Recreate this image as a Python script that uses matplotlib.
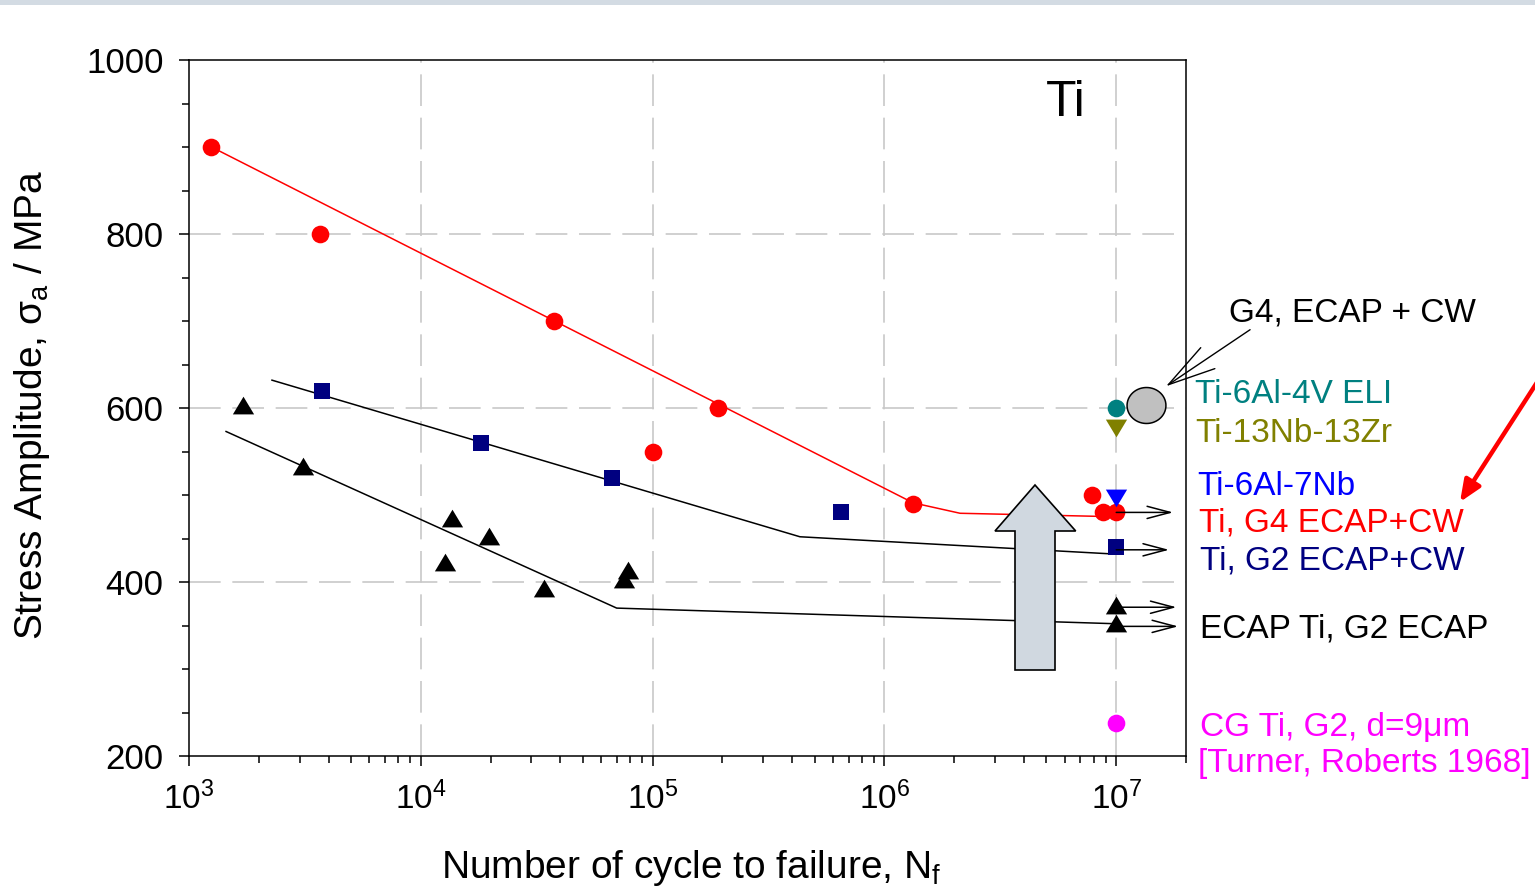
import numpy as np
import matplotlib
matplotlib.use("Agg")
import matplotlib.pyplot as plt
from matplotlib.patches import Polygon, Rectangle, FancyArrowPatch
from matplotlib.ticker import FixedLocator, NullFormatter

plt.rcParams['font.family'] = ['Liberation Sans', 'DejaVu Sans']
plt.rcParams['mathtext.fontset'] = 'custom'
plt.rcParams['mathtext.rm'] = 'Liberation Sans'
plt.rcParams['mathtext.it'] = 'Liberation Sans:italic'
plt.rcParams['mathtext.default'] = 'regular'

# ---------------- data ----------------
# Ti Grade 4, ECAP + cold working
g4_cw_n = [1250, 3670, 37600, 100000, 192000, 1.33e6, 7.9e6, 8.8e6, 1.0e7]
g4_cw_s = [900, 800, 700, 550, 600, 490, 500, 480, 480]
g4_fit_n = [1250, 1.33e6, 2.12e6, 1.0e7]
g4_fit_s = [900, 491, 479, 475]

# Ti Grade 2, ECAP + cold working
g2_cw_n = [3750, 18200, 67100, 650000, 1.0e7]
g2_cw_s = [620, 560, 520, 480, 440]
g2_fit_n = [2280, 432000, 1.0e7]
g2_fit_s = [632, 452, 432]

# ECAP Ti / Grade 2 ECAP
ecap_n = [1710, 3110, 12700, 13600, 19600, 34100, 75200, 78200, 1.0e7, 1.0e7]
ecap_s = [600, 530, 420, 470, 450, 390, 400, 410, 370, 350]
ecap_fit_n = [1445, 70000, 1.0e7]
ecap_fit_s = [573, 370, 352]

# reference alloys at 10^7 cycles
ti64_n, ti64_s = [1.0e7], [600]
ti1313_n, ti1313_s = [1.0e7], [580]
ti67_n, ti67_s = [1.0e7], [500]
cg_n, cg_s = [1.0e7], [238]

# run-out arrows (start stress, tip cycles)
runout_s = [480, 437, 371, 349]
runout_tip_n = [1.76e7, 1.69e7, 1.82e7, 1.85e7]
runout_start_n = 1.0e7

x_ticks = [1e3, 1e4, 1e5, 1e6, 1e7]
x_ticklabels = [r'$\mathregular{10^{3}}$', r'$\mathregular{10^{4}}$',
                r'$\mathregular{10^{5}}$', r'$\mathregular{10^{6}}$',
                r'$\mathregular{10^{7}}$']
y_ticks = [200, 400, 600, 800, 1000]

# ---------------- figure ----------------
W, H = 1535, 893
DPI = 100
fig = plt.figure(figsize=(W / DPI, H / DPI), dpi=DPI)


def fpx(x, y):
    """Figure-pixel position (origin top-left) to figure fraction."""
    return (x / W, 1 - y / H)


# thin banner strip at the top edge
fig.patches.append(Rectangle((0, 1 - 5 / H), 1, 5 / H, transform=fig.transFigure,
                             facecolor='#D3DBE3', edgecolor='none', zorder=0))

ax = fig.add_axes([189 / W, 1 - 756 / H, 997 / W, 696 / H])
ax.set_xscale('log')
ax.set_xlim(1e3, 2e7)
ax.set_ylim(200, 1000)

# grid
grid_kw = dict(color='#C8C8C8', lw=1.2, ls=(0, (19, 7)), zorder=0)
for xv in x_ticks[1:]:
    ax.axvline(xv, **grid_kw)
for yv in [400, 600, 800]:
    ax.axhline(yv, **grid_kw)

# ticks
ax.xaxis.set_major_locator(FixedLocator(x_ticks))
minor_x = [m * 10 ** e for e in range(3, 8) for m in range(2, 10) if m * 10 ** e <= 2e7]
ax.xaxis.set_minor_locator(FixedLocator(minor_x))
ax.xaxis.set_minor_formatter(NullFormatter())
ax.set_xticklabels(x_ticklabels)
ax.yaxis.set_major_locator(FixedLocator(y_ticks))
ax.yaxis.set_minor_locator(FixedLocator(np.arange(250, 1000, 50)))
ax.tick_params(axis='both', which='major', direction='out', length=7.2, width=1.1,
               color='black')
ax.tick_params(axis='both', which='minor', direction='out', length=5, width=1.1)
ax.tick_params(axis='x', which='major', pad=11, labelsize=24)
ax.tick_params(axis='y', which='major', pad=11, labelsize=25)
ax.tick_params(top=False, right=False, which='both')
for sp in ax.spines.values():
    sp.set_linewidth(1.1)

# fit lines
ax.plot(g4_fit_n, g4_fit_s, color='red', lw=1.1, zorder=2)
ax.plot(g2_fit_n, g2_fit_s, color='black', lw=1.1, zorder=2)
ax.plot(ecap_fit_n, ecap_fit_s, color='black', lw=1.1, zorder=2)

# triangle markers centred on their centroid
tri_up = [(0, 2 / 3), (-0.6, -1 / 3), (0.6, -1 / 3), (0, 2 / 3)]
tri_dn = [(0, -2 / 3), (-0.6, 1 / 3), (0.6, 1 / 3), (0, -2 / 3)]

ax.plot(g4_cw_n, g4_cw_s, 'o', color='#FF0000', ms=12.7, mew=0, zorder=4)
ax.plot(g2_cw_n, g2_cw_s, 's', color='#000080', ms=12, mew=0, zorder=4)
ax.plot(ecap_n, ecap_s, ls='none', marker=tri_up, color='black', ms=17, mew=0, zorder=4)
ax.plot(ti64_n, ti64_s, 'o', color='#008080', ms=12.7, mew=0, zorder=4)
ax.plot(ti1313_n, ti1313_s, ls='none', marker=tri_dn, color='#808000', ms=17, mew=0, zorder=4)
ax.plot(ti67_n, ti67_s, ls='none', marker=tri_dn, color='#0000FF', ms=17, mew=0, zorder=4)
ax.plot(cg_n, cg_s, 'o', color='#FF00FF', ms=12.7, mew=0, zorder=4)

# grey callout ellipse
th = np.linspace(0, 2 * np.pi, 60)
ellipse = list(zip(np.cos(th), 0.925 * np.sin(th)))
ax.plot([1.34e7], [604], ls='none', marker=ellipse, ms=28, mfc='#C0C0C0',
        mec='black', mew=1.1, zorder=4)

# run-out arrows
for s, tip in zip(runout_s, runout_tip_n):
    ax.annotate('', xy=(tip, s), xytext=(runout_start_n, s),
                arrowprops=dict(arrowstyle='->, head_length=1.66, head_width=0.44',
                                color='black', lw=1.1, shrinkA=0, shrinkB=0,
                                mutation_scale=10),
                annotation_clip=False, zorder=5)

# callout arrow to the ellipse
ax.annotate('', xy=(1.64e7, 625), xytext=(3.78e7, 690),
            arrowprops=dict(arrowstyle='->, head_length=3.43, head_width=0.91',
                            color='black', lw=1.0, shrinkA=0, shrinkB=0,
                            mutation_scale=10),
            annotation_clip=False, zorder=5)

# big block arrow showing the improvement
block = [(1035, 485), (1075.7, 531), (1055, 531), (1055, 670),
         (1015, 670), (1015, 531), (995, 531)]
block_ff = [fpx(x, y) for x, y in block]
fig.patches.append(Polygon(block_ff, closed=True, transform=fig.transFigure,
                           facecolor='#D0D8E0', edgecolor='black', lw=1.2, zorder=6))

# red pointer arrow from the right margin
fig.add_artist(FancyArrowPatch(
    fpx(1545, 370), fpx(1460, 502), transform=fig.transFigure,
    arrowstyle='-|>, head_length=1.3, head_width=0.55', mutation_scale=10,
    color='#FF0000', lw=3.2, shrinkA=0, shrinkB=0, zorder=7))

# title and axis labels
fig.text(*fpx(1066, 103), 'Ti', fontsize=36, ha='center', va='center')

ax.set_xlabel(r'Number of cycle to failure, $\mathregular{N_f}$', fontsize=28)
ax.xaxis.set_label_coords((691 - 189) / 997, (756 - 848) / 696)
ax.set_ylabel(r'Stress Amplitude, $\mathregular{σ_a}$ / MPa', fontsize=28)
ax.yaxis.set_label_coords((52 - 189) / 997, (756 - 405) / 696)

# series labels on the right
labels = [
    (1229, 310, 'G4, ECAP + CW', 'black'),
    (1195, 391, 'Ti-6Al-4V ELI', '#008080'),
    (1195, 430, 'Ti-13Nb-13Zr', '#808000'),
    (1197, 483, 'Ti-6Al-7Nb', '#0000FF'),
    (1199, 519, 'Ti, G4 ECAP+CW', '#FF0000'),
    (1200, 558, 'Ti, G2 ECAP+CW', '#000080'),
    (1200, 625, 'ECAP Ti, G2 ECAP', 'black'),
    (1200, 724, 'CG Ti, G2, d=9μm', '#FF00FF'),
    (1198, 760, '[Turner, Roberts 1968]', '#FF00FF'),
]
for x, y, t, c in labels:
    fig.text(*fpx(x, y), t, color=c, fontsize=24, ha='left', va='center_baseline')

fig.savefig('out.png', dpi=DPI)
